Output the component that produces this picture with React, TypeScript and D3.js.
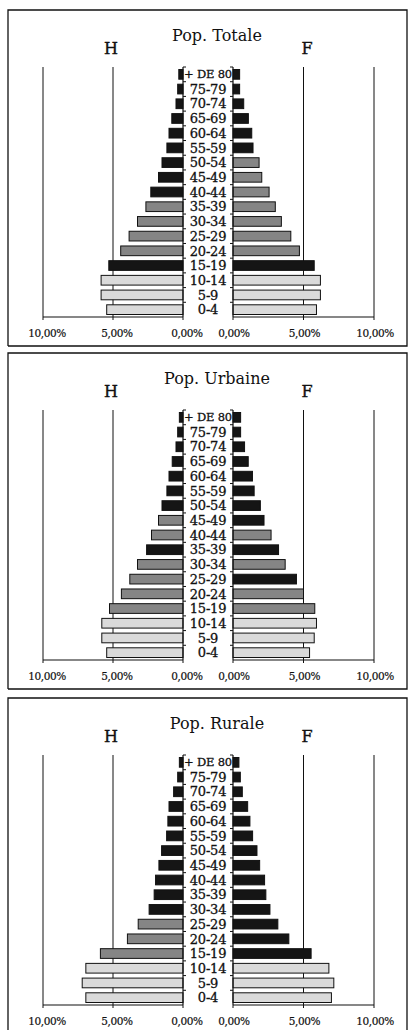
import React from "react";
import * as d3 from "d3";

const ages = ["+ DE 80", "75-79", "70-74", "65-69", "60-64", "55-59", "50-54", "45-49", "40-44", "35-39", "30-34", "25-29", "20-24", "15-19", "10-14", "5-9", "0-4"];
const xTicks = [0, 5, 10];
const tickLabels = ["0,00%", "5,00%", "10,00%"];

const totaleH = [0.3, 0.38, 0.5, 0.8, 1.0, 1.15, 1.5, 1.75, 2.3, 2.65, 3.25, 3.85, 4.45, 5.3, 5.85, 5.85, 5.45];
const totaleF = [0.47, 0.47, 0.76, 1.09, 1.33, 1.42, 1.85, 2.04, 2.56, 3.0, 3.43, 4.1, 4.71, 5.76, 6.2, 6.2, 5.92];
const urbaineH = [0.26, 0.38, 0.5, 0.77, 1.0, 1.15, 1.5, 1.75, 2.25, 2.6, 3.25, 3.8, 4.4, 5.25, 5.8, 5.8, 5.45];
const urbaineF = [0.54, 0.54, 0.82, 1.08, 1.38, 1.5, 1.94, 2.2, 2.7, 3.23, 3.7, 4.5, 5.0, 5.8, 5.92, 5.76, 5.43];
const ruraleH = [0.26, 0.38, 0.67, 1.0, 1.08, 1.17, 1.53, 1.72, 1.96, 2.06, 2.42, 3.2, 3.97, 5.9, 6.94, 7.2, 6.94];
const ruraleF = [0.42, 0.52, 0.66, 1.04, 1.2, 1.39, 1.7, 1.89, 2.24, 2.33, 2.62, 3.18, 3.96, 5.54, 6.8, 7.15, 6.98];

// shade classes: k = dark, g = mid grey, l = light
const totaleHShade = ["k", "k", "k", "k", "k", "k", "k", "k", "k", "g", "g", "g", "g", "k", "l", "l", "l"];
const totaleFShade = ["k", "k", "k", "k", "k", "k", "g", "g", "g", "g", "g", "g", "g", "k", "l", "l", "l"];
const urbaineHShade = ["k", "k", "k", "k", "k", "k", "k", "g", "g", "k", "g", "g", "g", "g", "l", "l", "l"];
const urbaineFShade = ["k", "k", "k", "k", "k", "k", "k", "k", "g", "k", "g", "k", "g", "g", "l", "l", "l"];
const ruraleHShade = ["k", "k", "k", "k", "k", "k", "k", "k", "k", "k", "k", "g", "g", "g", "l", "l", "l"];
const ruraleFShade = ["k", "k", "k", "k", "k", "k", "k", "k", "k", "k", "k", "k", "k", "k", "l", "l", "l"];

const panels = [
  { title: "Pop. Totale", h: totaleH, f: totaleF, hs: totaleHShade, fs: totaleFShade, top: 10 },
  { title: "Pop. Urbaine", h: urbaineH, f: urbaineF, hs: urbaineHShade, fs: urbaineFShade, top: 353 },
  { title: "Pop. Rurale", h: ruraleH, f: ruraleF, hs: ruraleHShade, fs: ruraleFShade, top: 698 },
];

const fills: Record<string, string> = { k: "#151515", g: "#858585", l: "#dadada" };
const FONT = "'DejaVu Serif', serif";

function Panel({ p }: { p: typeof panels[number] }) {
  const axisTop = p.top + 57;
  const base = axisTop + 250;
  const xL = d3.scaleLinear().domain([0, 10]).range([183, 43]);
  const xR = d3.scaleLinear().domain([0, 10]).range([233, 374]);
  const y = d3.scaleBand<string>().domain(ages).range([axisTop, base]).paddingInner(0.34).paddingOuter(0.17);
  const yb = d3.scaleBand<string>().domain(ages).range([axisTop, base]);
  const bh = y.bandwidth();
  const last = p.top === 698;
  const frameBottom = last ? 1040 : p.top + 336;
  return (
    <g>
      <path d={`M8,${frameBottom} L8,${p.top} L407,${p.top} L407,${frameBottom}${last ? "" : " L8," + frameBottom}`} fill="none" stroke="#111" strokeWidth={1.3} />
      <text x={217} y={p.top + 31} textAnchor="middle" fontFamily={FONT} fontSize={16} fill="#111">{p.title}</text>
      <text x={111} y={p.top + 44} textAnchor="middle" fontFamily={FONT} fontSize={16} fill="#111" stroke="#111" strokeWidth={0.4}>H</text>
      <text x={307} y={p.top + 44} textAnchor="middle" fontFamily={FONT} fontSize={16} fill="#111" stroke="#111" strokeWidth={0.4}>F</text>
      {xTicks.filter((t) => t > 0).map((t) => (
        <g key={"g" + t}>
          <line x1={xL(t)} x2={xL(t)} y1={axisTop} y2={base} stroke="#111" strokeWidth={1} />
          <line x1={xR(t)} x2={xR(t)} y1={axisTop} y2={base} stroke="#111" strokeWidth={1} />
        </g>
      ))}
      {ages.map((a, i) => (
        <g key={a}>
          <rect x={xL(p.h[i])} y={y(a)} width={xL(0) - xL(p.h[i])} height={bh} fill={fills[p.hs[i]]} stroke="#111" strokeWidth={1} />
          <rect x={xR(0)} y={y(a)} width={xR(p.f[i]) - xR(0)} height={bh} fill={fills[p.fs[i]]} stroke="#111" strokeWidth={1} />
          <text x={208} y={(yb(a) as number) + yb.bandwidth() / 2} dy="0.36em" textAnchor="middle" fontFamily={FONT} fontSize={i === 0 ? 11.5 : 13} letterSpacing={-0.2} fill="#111" stroke="#111" strokeWidth={0.3}>{a}</text>
          <line x1={xL(0)} x2={xL(0) + 3} y1={yb(a)} y2={yb(a)} stroke="#111" />
          <line x1={xR(0) - 3} x2={xR(0)} y1={yb(a)} y2={yb(a)} stroke="#111" />
        </g>
      ))}
      <line x1={xL(0)} x2={xL(0)} y1={axisTop} y2={base} stroke="#111" strokeWidth={1.2} />
      <line x1={xR(0)} x2={xR(0)} y1={axisTop} y2={base} stroke="#111" strokeWidth={1.2} />
      <line x1={xL(10)} x2={xL(0)} y1={base} y2={base} stroke="#111" strokeWidth={1.2} />
      <line x1={xR(0)} x2={xR(10)} y1={base} y2={base} stroke="#111" strokeWidth={1.2} />
      {xTicks.map((t, i) => (
        <g key={"t" + t}>
          <line x1={xL(t)} x2={xL(t)} y1={base} y2={base + 3} stroke="#111" />
          <line x1={xR(t)} x2={xR(t)} y1={base} y2={base + 3} stroke="#111" />
          <text x={xL(t) + 4} y={base + 20} textAnchor="middle" fontFamily={FONT} fontSize={10.5} letterSpacing={-0.4} fill="#111" stroke="#111" strokeWidth={0.2}>{tickLabels[i]}</text>
          <text x={xR(t) + 1} y={base + 20} textAnchor="middle" fontFamily={FONT} fontSize={10.5} letterSpacing={-0.4} fill="#111" stroke="#111" strokeWidth={0.2}>{tickLabels[i]}</text>
        </g>
      ))}
    </g>
  );
}

export default function App() {
  return (
    <svg width={408} height={1030} style={{ position: "absolute", left: 0, top: 0, background: "#fff" }}>
      <rect width={408} height={1030} fill="#fff" />
      {panels.map((p) => (
        <Panel key={p.title} p={p} />
      ))}
    </svg>
  );
}
